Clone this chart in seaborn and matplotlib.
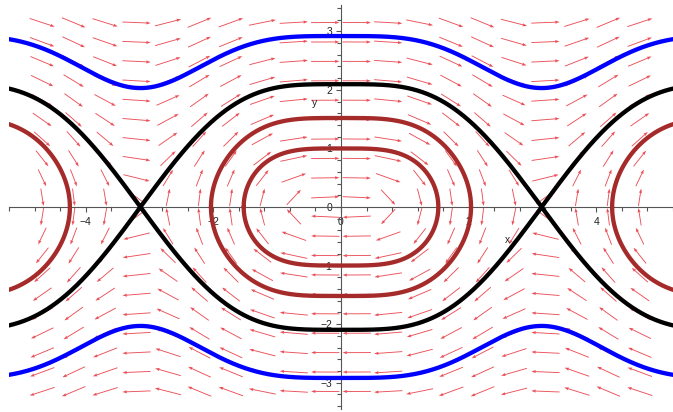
import numpy as np
import pandas as pd
import matplotlib
matplotlib.use("Agg")
import matplotlib.pyplot as plt
import seaborn as sns

# --------------------------
# System behind the picture:  x' = y ,  y' = -k (1 - cos x) sin x
# --------------------------
k = 1.1

orbit_names = ["inner", "middle", "middle_left", "middle_right"]
orbit_centers = [0.0, 0.0, -2 * np.pi, 2 * np.pi]
orbit_y0 = [1.0, 1.52, 1.52, 1.52]

blue_y0 = 2.92            # rotating orbit (top / bottom)

# direction field grid (20 x 20)
grid_x = np.linspace(-4.68, 4.68, 20)
grid_y = np.linspace(-3.15, 3.15, 20)

x_range = (-5.2, 5.13)
y_range = (-3.45, 3.45)


def potential(x):
    return 0.5 * k * (1 - np.cos(x)) ** 2


# --------------------------
# Build the curves
# --------------------------
rows = []
t = np.linspace(-np.pi / 2, np.pi / 2, 400)
for name, c, y0 in zip(orbit_names, orbit_centers, orbit_y0):
    E = 0.5 * y0 ** 2
    xmax = np.arccos(1 - np.sqrt(2 * E / k))
    xs = xmax * np.sin(t)
    ys = np.sqrt(np.clip(2 * (E - potential(xs)), 0, None))
    xx = np.concatenate([xs, xs[::-1]]) + c
    yy = np.concatenate([ys, -ys[::-1]])
    for a, b in zip(xx, yy):
        rows.append((name, "brown", a, b))

xs = np.linspace(-5.3, 5.3, 1500)
sep = np.sqrt(np.clip(2 * (2 * k - potential(xs)), 0, None))
E_blue = 0.5 * blue_y0 ** 2
blue = np.sqrt(2 * (E_blue - potential(xs)))
for sign, tag in [(1, "top"), (-1, "bottom")]:
    for a, b in zip(xs, sign * sep):
        rows.append(("sep_" + tag, "black", a, b))
    for a, b in zip(xs, sign * blue):
        rows.append(("blue_" + tag, "blue", a, b))

df = pd.DataFrame(rows, columns=["curve", "kind", "x", "y"])

# --------------------------
# Plot
# --------------------------
sns.set_theme(style="white")
plt.rcParams["font.family"] = ["Liberation Sans", "DejaVu Sans"]

fig = plt.figure(figsize=(6.73, 4.12), dpi=100)
ax = fig.add_axes([9 / 673, 3 / 412, 664 / 673, 404 / 412])

# direction field, arrows scaled to the grid cell
X, Y = np.meshgrid(grid_x, grid_y)
U = Y
V = -k * (1 - np.cos(X)) * np.sin(X)
dx = grid_x[1] - grid_x[0]
dy = grid_y[1] - grid_y[0]
a, b = U / dx, V / dy
n = np.hypot(a, b)
s = 0.9
ax.quiver(X, Y, a / n * dx * s, b / n * dy * s, angles="xy", scale_units="xy",
          scale=1, pivot="middle", color="#e8303a", alpha=0.85, units="dots",
          width=0.9, headwidth=3.5, headlength=5, headaxislength=4.5, zorder=1)

palette = {"brown": "#a52a2a", "black": "black", "blue": "#0000ff"}
sns.lineplot(data=df, x="x", y="y", hue="kind", units="curve", estimator=None,
             sort=False, palette=palette, linewidth=3.1, legend=False, ax=ax,
             zorder=3)

ax.set_xlim(*x_range)
ax.set_ylim(*y_range)
ax.set_xlabel("")
ax.set_ylabel("")

# Maple style axes through the origin
for side in ["top", "right"]:
    ax.spines[side].set_visible(False)
ax.spines["left"].set_position(("data", 0))
ax.spines["bottom"].set_position(("data", 0))
for side in ["left", "bottom"]:
    ax.spines[side].set_color("#555555")
    ax.spines[side].set_linewidth(0.8)

ax.set_xticks([-4, -2, 0, 2, 4])
ax.set_xticks(np.arange(-5.2, 5.21, 0.4), minor=True)
ax.set_yticks([-3, -2, -1, 0, 1, 2, 3])
ax.set_yticks(np.arange(-3.4, 3.41, 0.2), minor=True)
ax.tick_params(which="both", direction="out", color="#555555", width=0.8,
               labelsize=7.5, labelcolor="#222222", bottom=True, left=True)
ax.tick_params(which="major", length=3.5)
ax.tick_params(which="minor", length=3)
ax.tick_params(axis="x", pad=4)
ax.tick_params(axis="y", pad=3)

ax.text(2.61, -0.56, "x", fontsize=7.5, color="#222222", ha="center", va="center")
ax.text(-0.42, 1.77, "y", fontsize=7.5, color="#222222", ha="center", va="center")

fig.savefig("out.png", dpi=100)
